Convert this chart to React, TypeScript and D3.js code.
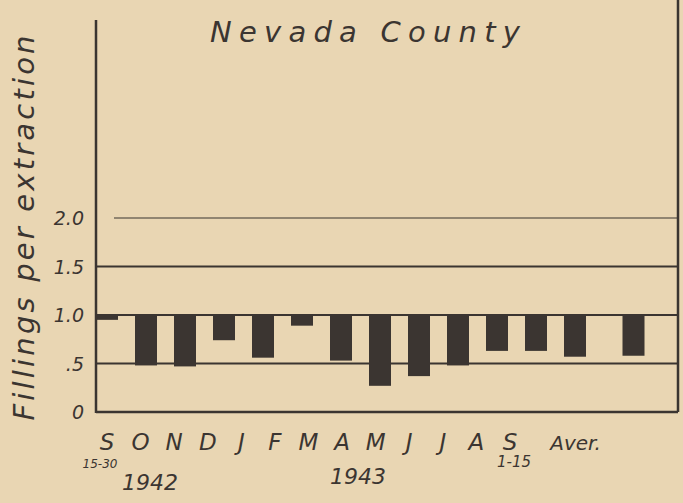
import React from "react"
import { scaleLinear } from "d3"

// months from Sept 15 1942 to Sept 15 1943, plus the average
const monthLabels = ["S", "O", "N", "D", "J", "F", "M", "A", "M", "J", "J", "A", "S", "Aver."]
const fillings = [0.95, 0.48, 0.47, 0.74, 0.56, 0.89, 0.53, 0.27, 0.37, 0.48, 0.63, 0.63, 0.57, 0.58]
const yTicks = [0, 0.5, 1.0, 1.5, 2.0]
const yTickLabels = ["0", ".5", "1.0", "1.5", "2.0"]
const gridValues = [0.5, 1.0, 1.5, 2.0]
const baseline = 1.0

const ink = "#3b3531"
const paper = "#e9d6b3"
const hand = "'DejaVu Sans', sans-serif"

export default function App() {
    const width = 683
    const height = 503
    const left = 96
    const right = 678

    const y = scaleLinear().domain([0, 2]).range([412, 218])
    // bar positions: one slot per month, the average sits half a slot further out
    const barX = scaleLinear().domain([0, 12]).range([107, 575])
    const labelX = scaleLinear().domain([0, 12]).range([107, 510])
    const slot = (i) => (i === fillings.length - 1 ? i + 0.5 : i)
    const barW = 22

    return (
        <svg width={width} height={height} style={{ position: "absolute", left: 0, top: 0 }}>
            <rect width={width} height={height} fill={paper} />

            {gridValues.map((v) => (
                <line
                    key={v}
                    x1={v === 2 ? left + 18 : left}
                    x2={right}
                    y1={y(v)}
                    y2={y(v)}
                    stroke={ink}
                    strokeWidth={v === 2 ? 1.2 : 2}
                />
            ))}

            {fillings.map((v, i) => {
                const cx = barX(slot(i))
                const x0 = Math.max(left, cx - barW / 2)
                return (
                    <rect
                        key={i}
                        x={x0}
                        y={y(baseline)}
                        width={cx + barW / 2 - x0}
                        height={y(v) - y(baseline)}
                        fill={ink}
                    />
                )
            })}

            <line x1={left} x2={left} y1={20} y2={413} stroke={ink} strokeWidth={2.5} />
            <line x1={left} x2={right} y1={412} y2={412} stroke={ink} strokeWidth={2.5} />
            <line x1={right} x2={right} y1={0} y2={412} stroke={ink} strokeWidth={2.5} />

            {yTicks.map((t, i) => (
                <text
                    key={t}
                    x={84}
                    y={y(t) + 7}
                    textAnchor="end"
                    fontFamily={hand}
                    fontStyle="italic"
                    fontSize={19}
                    fill={ink}
                >
                    {yTickLabels[i]}
                </text>
            ))}

            <text
                transform={"translate(34," + 228 + ") rotate(-90)"}
                textAnchor="middle"
                fontFamily={hand}
                fontStyle="italic"
                fontSize={29}
                fill={ink}
                textLength={385}
                lengthAdjust="spacing"
            >
                Fillings per extraction
            </text>

            <text
                x={210}
                y={42}
                fontFamily={hand}
                fontStyle="italic"
                fontSize={29}
                fill={ink}
                textLength={310}
                lengthAdjust="spacing"
            >
                Nevada County
            </text>

            {monthLabels.map((m, i) => (
                <text
                    key={i}
                    x={i === monthLabels.length - 1 ? labelX(13.2) : labelX(i)}
                    y={450}
                    textAnchor={i === monthLabels.length - 1 ? "start" : "middle"}
                    fontFamily={hand}
                    fontStyle="italic"
                    fontSize={i === monthLabels.length - 1 ? 20 : 23}
                    fill={ink}
                >
                    {m}
                </text>
            ))}

            <text x={labelX(0) - 7} y={468} textAnchor="middle" fontFamily={hand} fontStyle="italic" fontSize={12} fill={ink}>
                15-30
            </text>
            <text x={labelX(12) + 4} y={467} textAnchor="middle" fontFamily={hand} fontStyle="italic" fontSize={15} fill={ink}>
                1-15
            </text>
            <text x={150} y={490} textAnchor="middle" fontFamily={hand} fontStyle="italic" fontSize={22} fill={ink}>
                1942
            </text>
            <text x={358} y={484} textAnchor="middle" fontFamily={hand} fontStyle="italic" fontSize={22} fill={ink}>
                1943
            </text>
        </svg>
    )
}
